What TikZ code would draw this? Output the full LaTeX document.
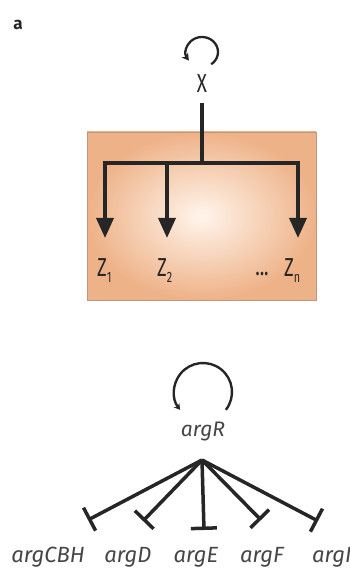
\documentclass[tikz,border=0pt]{standalone}
\usepackage{fontspec}
\setmainfont{Fira Sans}
\usetikzlibrary{arrows.meta}
\definecolor{boxout}{RGB}{238,178,136}
\definecolor{boxin}{RGB}{255,245,236}
\definecolor{boxedge}{RGB}{192,152,128}
\definecolor{ink}{RGB}{38,38,38}
\definecolor{gene}{RGB}{70,70,70}
\begin{document}
\begin{tikzpicture}[x=1pt,y=1pt,
  wire/.style={line width=3.5pt, draw=ink},
  actarrow/.style={wire, line join=miter, -{Triangle[width=17pt,length=20pt]}},
  reparrow/.style={wire, -{Bar[width=26pt,line width=3.5pt]}},
  loopx/.style={line width=2.3pt, draw=ink, -{Stealth[length=7pt,width=8pt]}},
  loopr/.style={line width=2.4pt, draw=ink, -{Stealth[length=6pt,width=7pt]}},
  zlab/.style={font=\fontsize{26}{26}\selectfont, text=ink, xscale=0.72, inner sep=0pt},
  genelab/.style={font=\fontsize{22}{22}\selectfont\itshape, text=gene, inner sep=0pt, anchor=base},
]
\useasboundingbox (0,0) rectangle (350,573);
\clip (0,0) rectangle (350,573);
\fill[white] (0,0) rectangle (350,573);

% panel label
\node[font=\fontsize{17}{17}\selectfont\bfseries, text=ink, inner sep=0pt] (lbl) at (18,548) {a};

% ---------- upper motif ----------
\shade[inner color=boxin, outer color=boxout] (87,273) rectangle (316,441);
\draw[boxedge, line width=0.7pt] (87,273) rectangle (316,441);

\node[zlab] (X) at (202,489) {X};
\coordinate (xloop) at (202,521);
\draw[loopx] ([shift={(-55:16 and 15)}]xloop) arc[start angle=-55, end angle=215, x radius=16, y radius=15];

\coordinate (xout) at (202,470);
\coordinate (hub) at (202,410);
\coordinate (t1) at (105,335);
\coordinate (t2) at (167,335);
\coordinate (tn) at (298,335);
\draw[wire] (xout) -- (hub);
\draw[actarrow] (hub) -| (t1);
\draw[actarrow] (hub) -| (t2);
\draw[actarrow] (hub) -| (tn);

\node[zlab, anchor=base west] (Z1) at (97,296) {Z\raisebox{-6pt}{\fontsize{15}{15}\selectfont 1}};
\node[zlab, anchor=base west] (Z2) at (157,296) {Z\raisebox{-6pt}{\fontsize{15}{15}\selectfont 2}};
\node[zlab, anchor=base] (dots) at (262,297) {...};
\node[zlab, anchor=base west] (Zn) at (284,296) {Z\raisebox{-6pt}{\fontsize{15}{15}\selectfont n}};

% ---------- lower motif ----------
\node[genelab, font=\fontsize{21}{21}\selectfont\itshape] (argR) at (203,136) {argR};
\coordinate (rloop) at (203,181);
\draw[loopr] ([shift={(-38:29)}]rloop) arc[start angle=-38, end angle=218, radius=29];

\coordinate (fan) at (202,113);
\coordinate (bCBH) at (88,53);
\coordinate (bD) at (143,52);
\coordinate (bE) at (204,43);
\coordinate (bF) at (261,53);
\coordinate (bI) at (318,52);
\foreach \t in {bCBH,bD,bE,bF,bI}
  \draw[reparrow] (fan) -- (\t);

\node[genelab] (gCBH) at (48,10) {argCBH};
\node[genelab] (gD) at (128,10) {argD};
\node[genelab] (gE) at (196,10) {argE};
\node[genelab] (gF) at (262,10) {argF};
\node[genelab, anchor=base west] (gI) at (312,10) {argI};
\end{tikzpicture}
\end{document}
